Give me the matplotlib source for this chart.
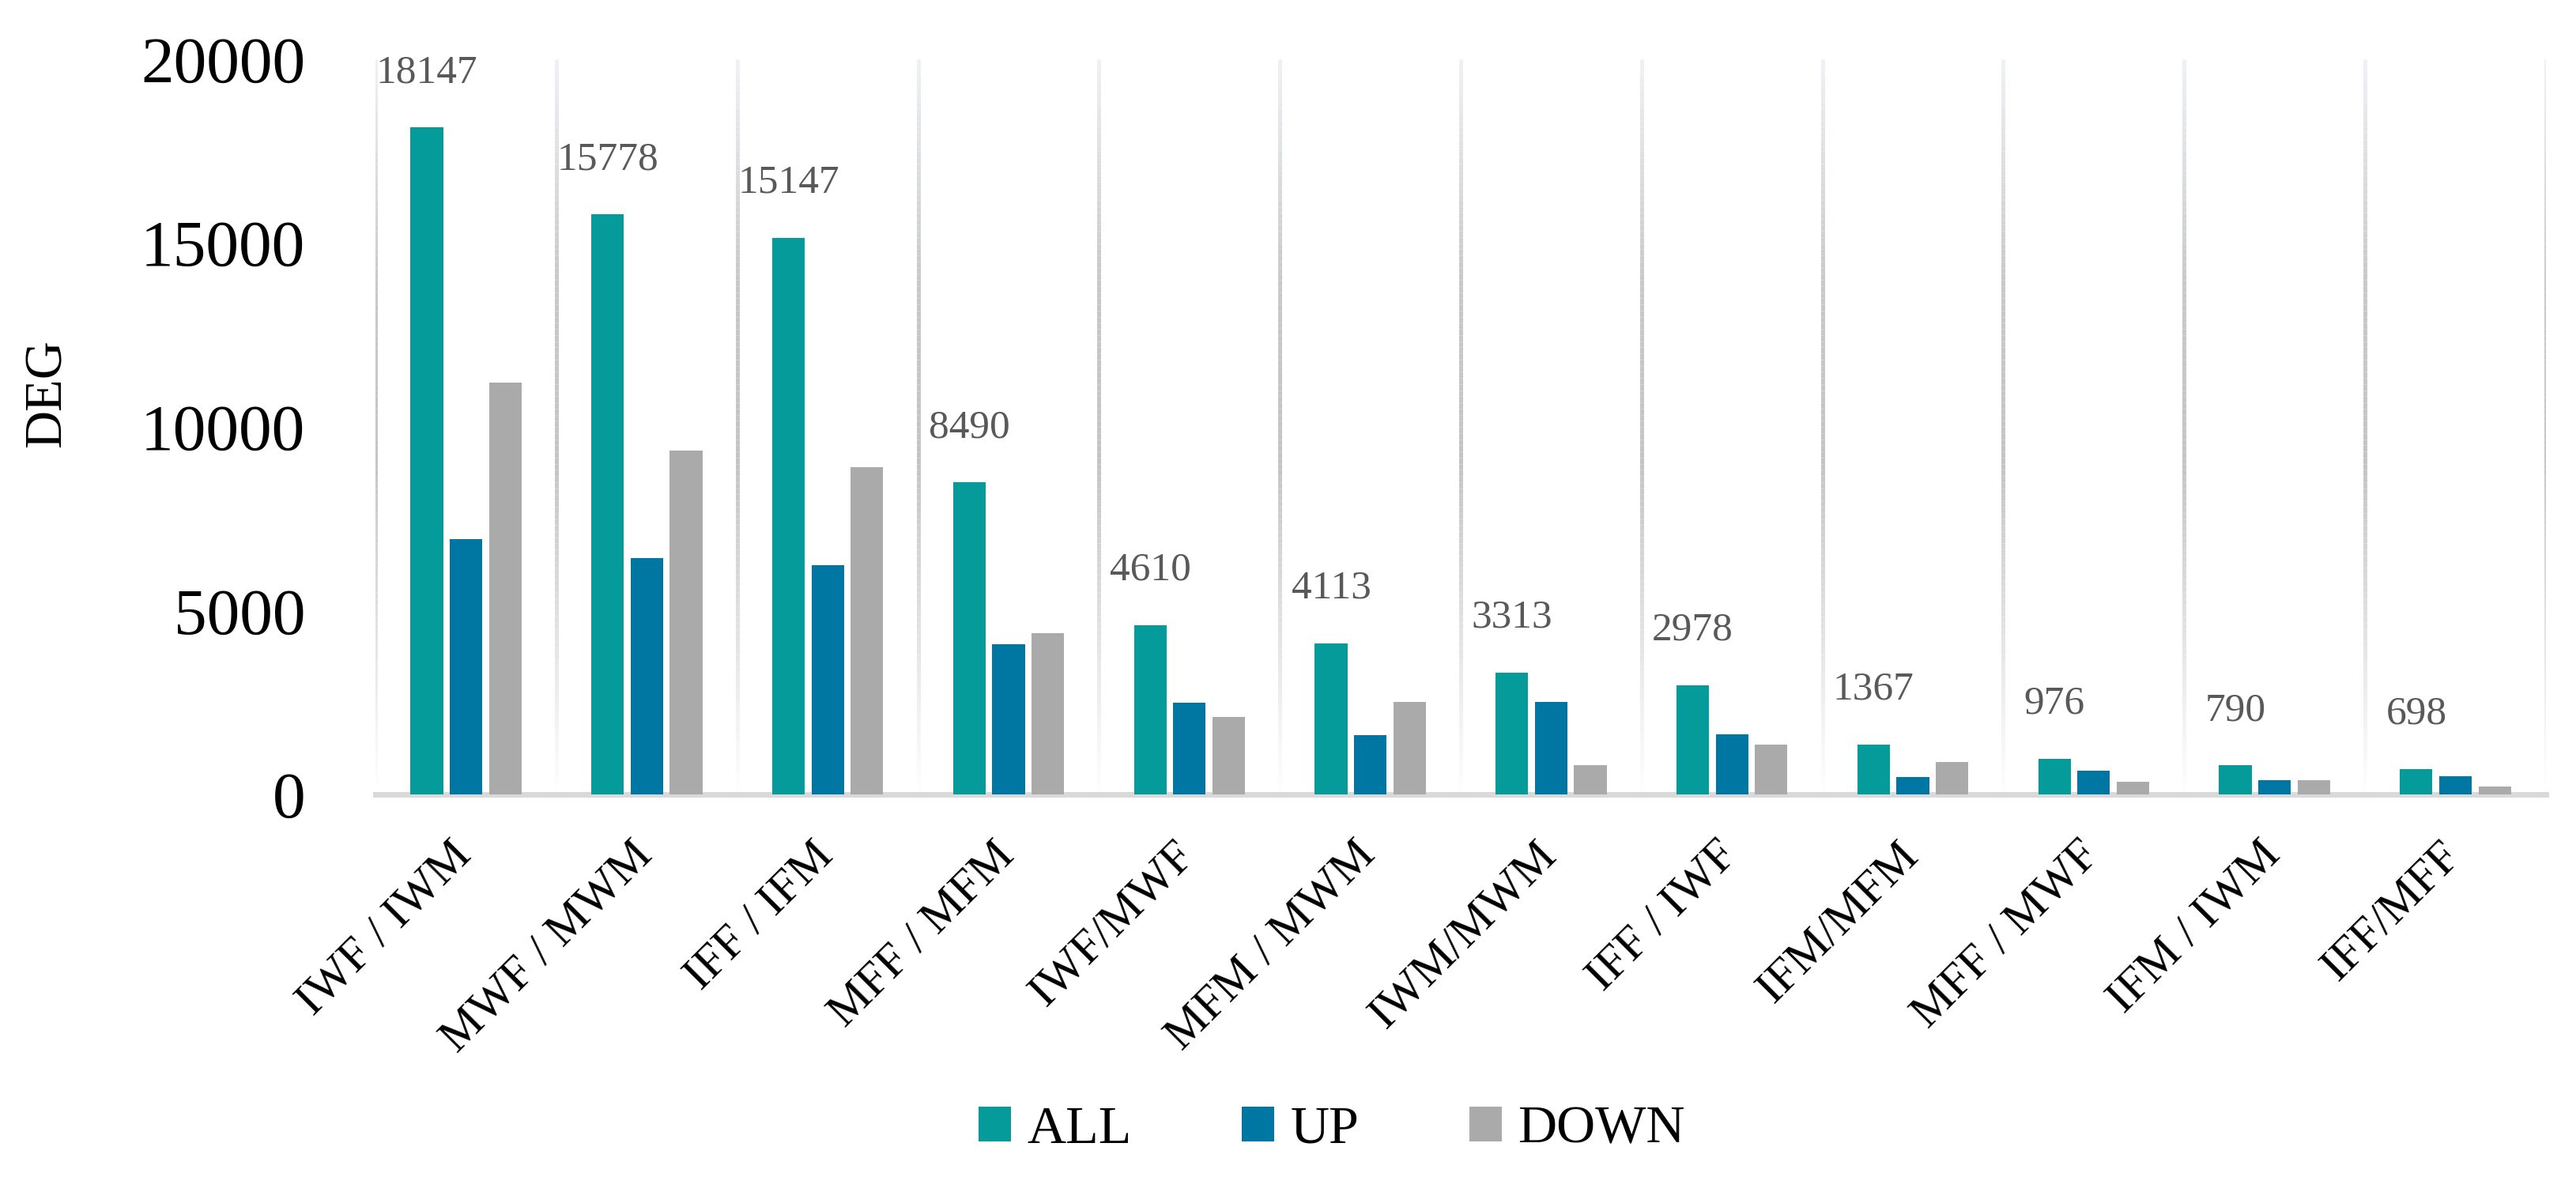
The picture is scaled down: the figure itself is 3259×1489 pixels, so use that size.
import numpy as np
import matplotlib
matplotlib.use("Agg")
import matplotlib.pyplot as plt
import matplotlib.transforms as mtransforms
from matplotlib.collections import LineCollection
from matplotlib.colors import LinearSegmentedColormap

# Comparison pairs and DEG counts
categories = ["IWF / IWM", "MWF / MWM", "IFF / IFM", "MFF / MFM", "IWF/MWF", "MFM / MWM",
              "IWM/MWM", "IFF / IWF", "IFM/MFM", "MFF / MWF", "IFM / IWM", "IFF/MFF"]
deg_all = [18147, 15778, 15147, 8490, 4610, 4113, 3313, 2978, 1367, 976, 790, 698]
deg_up = [6945, 6430, 6235, 4095, 2500, 1605, 2510, 1630, 480, 640, 398, 490]
deg_down = [11202, 9348, 8912, 4395, 2110, 2508, 803, 1348, 887, 336, 392, 208]

series_names = ["ALL", "UP", "DOWN"]
colors = ["#049B9A", "#0077A3", "#AAAAAA"]

plt.rcParams['font.family'] = ['Liberation Serif', 'DejaVu Serif']

fig = plt.figure(figsize=(32.59, 14.89), dpi=100)
ax = fig.add_axes([0.1458, 0.325, 0.8425, 0.6246])

x = np.arange(len(categories))
w = 0.18
step = 0.217

# gradient vertical gridlines between categories (light at top, grey middle, white at bottom)
grid_cmap = LinearSegmentedColormap.from_list(
    "gridfade", [(0.0, "#FFFFFF"), (0.45, "#C4C4C4"), (0.7, "#C8C8C8"), (1.0, "#EFF1F6")])
n = 120
ys = np.linspace(0, 20000, n + 1)
segs, cols = [], []
for gx in np.arange(-0.5, len(categories) + 0.5, 1.0):
    for i in range(n):
        segs.append([(gx, ys[i]), (gx, ys[i + 1])])
        cols.append(grid_cmap((ys[i] + ys[i + 1]) / 2 / 20000))
ax.add_collection(LineCollection(segs, colors=cols, linewidths=3.6, zorder=1, capstyle='butt'))

for k, (vals, name, c) in enumerate(zip([deg_all, deg_up, deg_down], series_names, colors)):
    ax.bar(x + (k - 1) * step, vals, width=w, color=c, label=name, zorder=3)

# value labels above ALL bars
for xi, v in zip(x, deg_all):
    ax.annotate(str(v), (xi - step, v), xytext=(0, 50), textcoords='offset points',
                ha='center', va='center', fontsize=37, color='#595959')

ax.set_xlim(-0.5, len(categories) - 0.5)
ax.set_ylim(0, 20000)
ax.set_yticks([0, 5000, 10000, 15000, 20000])
ax.set_xticks(x)
ax.set_xticklabels(categories, rotation=45, ha='right', fontsize=43)
ax.tick_params(axis='y', length=0, labelsize=60, pad=64)
ax.tick_params(axis='x', length=0, pad=36)

# nudge rotated category labels slightly right
shift = mtransforms.ScaledTranslation(0.18, 0, fig.dpi_scale_trans)
for lab in ax.get_xticklabels():
    lab.set_transform(lab.get_transform() + shift)

for s in ['top', 'right', 'left']:
    ax.spines[s].set_visible(False)
ax.spines['bottom'].set_color('#D9D9D9')
ax.spines['bottom'].set_linewidth(5)
ax.spines['bottom'].set_zorder(2)

fig.text(0.0184, 0.666, "DEG", rotation=90, ha='center', va='center', fontsize=48)

fig.legend(loc='center', bbox_to_anchor=(0.517, 0.04), ncol=3, frameon=False,
           fontsize=49, handlelength=0.6, handleheight=0.6, handletextpad=0.3,
           columnspacing=2.05)

fig.savefig("out.png", dpi=100)
